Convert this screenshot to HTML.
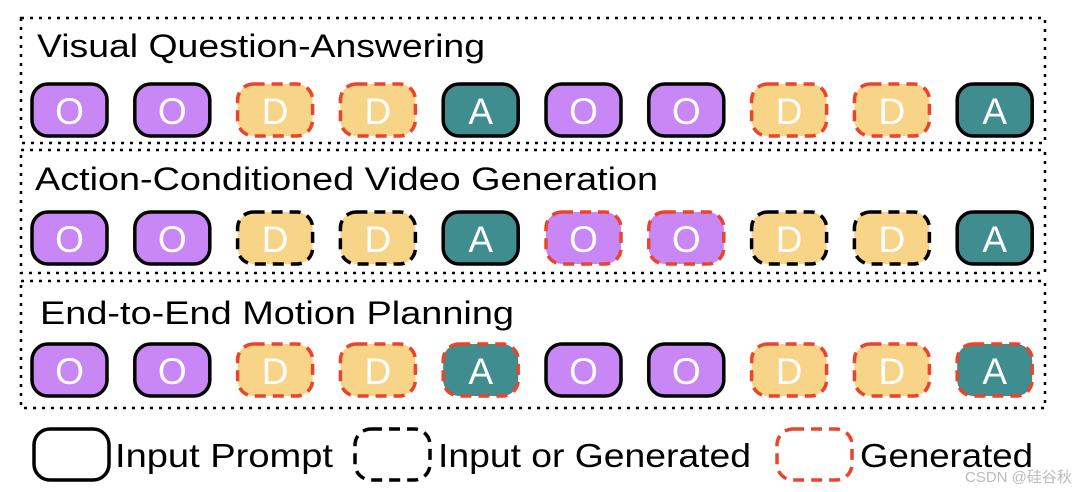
<!DOCTYPE html>
<html><head><style>body{margin:0;background:#fff}svg{display:block}
.O{fill:#c986f5}.D{fill:#f8d488}.A{fill:#3f8d8f}
.s{stroke:#000;stroke-width:3.5}
.r{stroke:#e8452c;stroke-width:3.5;stroke-dasharray:11,7}
.b{stroke:#000;stroke-width:3.5;stroke-dasharray:11,7}
.t{fill:#fff;font-size:37px;text-anchor:middle}
</style></head><body>
<svg width="1072" height="492" xmlns="http://www.w3.org/2000/svg" font-family="Liberation Sans, Arial, sans-serif">
<g fill="none" stroke="#000" stroke-width="2.5" stroke-dasharray="3,6">
<rect x="21" y="18" width="1024" height="125"/>
<rect x="21" y="150" width="1024" height="123"/>
<rect x="21" y="281" width="1024" height="127"/>
</g>
<g font-size="32" fill="#000">
<text x="37" y="57" textLength="448" lengthAdjust="spacingAndGlyphs">Visual Question-Answering</text>
<text x="35" y="190" textLength="623" lengthAdjust="spacingAndGlyphs">Action-Conditioned Video Generation</text>
<text x="40" y="324" textLength="474" lengthAdjust="spacingAndGlyphs">End-to-End Motion Planning</text>
</g>

<!-- Row 1 -->
<g transform="translate(0,84)">
<rect x="32" width="75" height="52" rx="16" class="O s"/>
<rect x="134.8" width="75" height="52" rx="16" class="O s"/>
<rect x="237.6" width="75" height="52" rx="16" class="D r"/>
<rect x="340.4" width="75" height="52" rx="16" class="D r"/>
<rect x="443.2" width="75" height="52" rx="16" class="A s"/>
<rect x="546" width="75" height="52" rx="16" class="O s"/>
<rect x="648.8" width="75" height="52" rx="16" class="O s"/>
<rect x="751.6" width="75" height="52" rx="16" class="D r"/>
<rect x="854.4" width="75" height="52" rx="16" class="D r"/>
<rect x="957.2" width="75" height="52" rx="16" class="A s"/>
<text class="t" y="40"><tspan x="69.5">O</tspan><tspan x="172.3">O</tspan><tspan x="275.1">D</tspan><tspan x="377.9">D</tspan><tspan x="480.7">A</tspan><tspan x="583.5">O</tspan><tspan x="686.3">O</tspan><tspan x="789.1">D</tspan><tspan x="891.9">D</tspan><tspan x="994.7">A</tspan></text>
</g>
<!-- Row 2 -->
<g transform="translate(0,212)">
<rect x="32" width="75" height="52" rx="16" class="O s"/>
<rect x="134.8" width="75" height="52" rx="16" class="O s"/>
<rect x="237.6" width="75" height="52" rx="16" class="D b"/>
<rect x="340.4" width="75" height="52" rx="16" class="D b"/>
<rect x="443.2" width="75" height="52" rx="16" class="A s"/>
<rect x="546" width="75" height="52" rx="16" class="O r"/>
<rect x="648.8" width="75" height="52" rx="16" class="O r"/>
<rect x="751.6" width="75" height="52" rx="16" class="D b"/>
<rect x="854.4" width="75" height="52" rx="16" class="D b"/>
<rect x="957.2" width="75" height="52" rx="16" class="A s"/>
<text class="t" y="40"><tspan x="69.5">O</tspan><tspan x="172.3">O</tspan><tspan x="275.1">D</tspan><tspan x="377.9">D</tspan><tspan x="480.7">A</tspan><tspan x="583.5">O</tspan><tspan x="686.3">O</tspan><tspan x="789.1">D</tspan><tspan x="891.9">D</tspan><tspan x="994.7">A</tspan></text>
</g>
<!-- Row 3 -->
<g transform="translate(0,344)">
<rect x="32" width="75" height="52" rx="16" class="O s"/>
<rect x="134.8" width="75" height="52" rx="16" class="O s"/>
<rect x="237.6" width="75" height="52" rx="16" class="D r"/>
<rect x="340.4" width="75" height="52" rx="16" class="D r"/>
<rect x="443.2" width="75" height="52" rx="16" class="A r"/>
<rect x="546" width="75" height="52" rx="16" class="O s"/>
<rect x="648.8" width="75" height="52" rx="16" class="O s"/>
<rect x="751.6" width="75" height="52" rx="16" class="D r"/>
<rect x="854.4" width="75" height="52" rx="16" class="D r"/>
<rect x="957.2" width="75" height="52" rx="16" class="A r"/>
<text class="t" y="40"><tspan x="69.5">O</tspan><tspan x="172.3">O</tspan><tspan x="275.1">D</tspan><tspan x="377.9">D</tspan><tspan x="480.7">A</tspan><tspan x="583.5">O</tspan><tspan x="686.3">O</tspan><tspan x="789.1">D</tspan><tspan x="891.9">D</tspan><tspan x="994.7">A</tspan></text>
</g>

<rect x="34" y="429" width="75" height="51" rx="16" fill="none" stroke="#000" stroke-width="3.5"/>
<rect x="355" y="429" width="75" height="51" rx="16" fill="none" stroke="#000" stroke-width="3.5" stroke-dasharray="11,7"/>
<rect x="777" y="429" width="75" height="51" rx="16" fill="none" stroke="#e8452c" stroke-width="3.5" stroke-dasharray="11,7"/>
<g font-size="33" fill="#000">
<text x="115" y="467" textLength="218" lengthAdjust="spacingAndGlyphs">Input Prompt</text>
<text x="438" y="467" textLength="313" lengthAdjust="spacingAndGlyphs">Input or Generated</text>
<text x="860" y="467" textLength="173" lengthAdjust="spacingAndGlyphs">Generated</text>
</g>
<text x="965" y="482" font-size="15" fill="#bbb" font-family="Liberation Sans, Noto Sans CJK SC, sans-serif">CSDN @硅谷秋水</text>
</svg>
</body></html>
